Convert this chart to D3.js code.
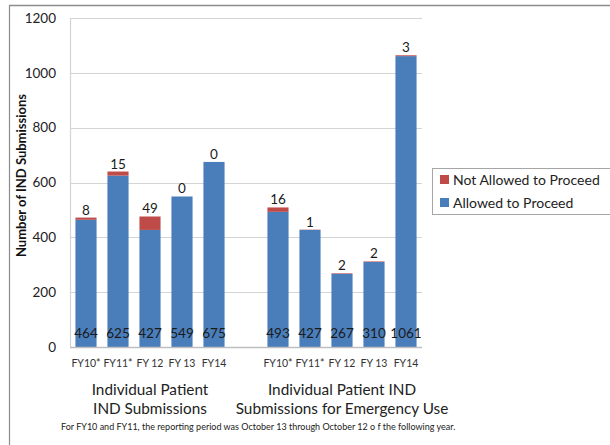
<!DOCTYPE html>
<html>
<head>
<meta charset="utf-8">
<script src="https://cdn.jsdelivr.net/npm/d3@7"></script>
<style>
  html, body { margin: 0; padding: 0; background: #fff; }
  svg { display: block; font-family: Lato, "Open Sans", sans-serif; }
</style>
</head>
<body>
<svg id="chart" width="610" height="445"></svg>
<script>
// Fiscal years shown in each panel
const years = ["FY10*", "FY11*", "FY 12", "FY 13", "FY14"];
const groupNames = [
  ["Individual Patient", "IND Submissions"],
  ["Individual Patient IND", "Submissions for Emergency Use"]
];
// Individual Patient IND Submissions
const patientAllowed = [464, 625, 427, 549, 675];
const patientNotAllowed = [8, 15, 49, 0, 0];
// Individual Patient IND Submissions for Emergency Use
const emergencyAllowed = [493, 427, 267, 310, 1061];
const emergencyNotAllowed = [16, 1, 2, 2, 3];
const yTicks = [0, 200, 400, 600, 800, 1000, 1200];
const seriesNames = ["Not Allowed to Proceed", "Allowed to Proceed"];
const footnote = "For FY10 and FY11, the reporting period was October 13 through October 12 o f the following year.";

const blue = "#4A7EBB", red = "#BE4B48";

// Build rows: 5 bars, one empty slot, 5 bars
const rows = [];
years.forEach((yr, i) => rows.push({ key: "p" + i, label: yr, group: 0, allowed: patientAllowed[i], notAllowed: patientNotAllowed[i] }));
rows.push({ key: "gap", label: "", group: -1, allowed: 0, notAllowed: 0 });
years.forEach((yr, i) => rows.push({ key: "e" + i, label: yr, group: 1, allowed: emergencyAllowed[i], notAllowed: emergencyNotAllowed[i] }));

const svg = d3.select("#chart");
const plotLeft = 70, plotRight = 422, plotTop = 18, plotBottom = 347;

const x = d3.scaleBand().domain(rows.map(d => d.key)).range([plotLeft, plotRight]).paddingInner(0.34).paddingOuter(0.17);
const y = d3.scaleLinear().domain([0, 1200]).range([plotBottom, plotTop]);

// Outer frame (top and left edges)
svg.append("line").attr("x1", 9).attr("x2", 610).attr("y1", 5.5).attr("y2", 5.5).attr("stroke", "#8c8c8c").attr("stroke-width", 1.5);
svg.append("line").attr("x1", 9.5).attr("x2", 9.5).attr("y1", 5).attr("y2", 445).attr("stroke", "#8c8c8c").attr("stroke-width", 1.2);

// Gridlines
svg.append("g").selectAll("line").data(yTicks.slice(1)).join("line")
  .attr("x1", plotLeft).attr("x2", plotRight)
  .attr("y1", d => Math.round(y(d)) + 0.5).attr("y2", d => Math.round(y(d)) + 0.5)
  .attr("stroke", "#d4d4d4").attr("stroke-width", 1.2);
svg.append("line").attr("x1", plotLeft + 0.5).attr("x2", plotLeft + 0.5).attr("y1", plotTop).attr("y2", plotBottom)
  .attr("stroke", "#d4d4d4").attr("stroke-width", 1.2);

// Y axis
const yAxis = d3.axisLeft(y).tickValues(yTicks).tickSize(0).tickPadding(0).tickFormat(d3.format("d"));
const yg = svg.append("g").attr("transform", `translate(${plotLeft - 14},0)`).call(yAxis);
yg.select(".domain").remove();
yg.selectAll("text").attr("font-size", 13.5).attr("fill", "#222").attr("font-family", "Lato, sans-serif");

// Stacked bars
const data = rows.filter(d => d.group >= 0);
const stack = d3.stack().keys(["allowed", "notAllowed"])(data);
const colors = { allowed: blue, notAllowed: red };
stack.forEach(layer => {
  svg.append("g").selectAll("rect").data(layer).join("rect")
    .attr("x", d => x(d.data.key))
    .attr("width", x.bandwidth())
    .attr("y", d => y(d[1]))
    .attr("height", d => y(d[0]) - y(d[1]))
    .attr("fill", colors[layer.key]);
});

// X axis baseline
svg.append("line").attr("x1", plotLeft).attr("x2", plotRight).attr("y1", plotBottom + 0.5).attr("y2", plotBottom + 0.5)
  .attr("stroke", "#bfbfbf").attr("stroke-width", 1.5);

// Value labels: allowed at the base, not-allowed above the bar
svg.append("g").selectAll("text").data(data).join("text")
  .attr("x", d => x(d.key) + x.bandwidth() / 2)
  .attr("y", plotBottom - 9)
  .attr("text-anchor", "middle").attr("font-size", 13.5).attr("fill", "#1a1a1a")
  .text(d => d.allowed);
svg.append("g").selectAll("text").data(data).join("text")
  .attr("x", d => x(d.key) + x.bandwidth() / 2)
  .attr("y", d => y(d.allowed + d.notAllowed) - 3)
  .attr("text-anchor", "middle").attr("font-size", 13.5).attr("fill", "#1a1a1a")
  .text(d => d.notAllowed);

// Category labels
svg.append("g").selectAll("text").data(data).join("text")
  .attr("x", d => x(d.key) + x.bandwidth() / 2)
  .attr("y", 367)
  .attr("text-anchor", "middle").attr("font-size", 10.5).attr("fill", "#333")
  .text(d => d.label);

// Group titles
[0, 1].forEach(g => {
  const keys = data.filter(d => d.group === g).map(d => d.key);
  const cx = (x(keys[0]) + x(keys[keys.length - 1]) + x.bandwidth()) / 2;
  groupNames[g].forEach((line, i) => {
    svg.append("text").attr("x", cx).attr("y", 395 + i * 19)
      .attr("text-anchor", "middle").attr("font-size", 15.3).attr("fill", "#222")
      .text(line);
  });
});

// Y axis title
svg.append("text")
  .attr("transform", `translate(26,${(plotTop + plotBottom) / 2 - 7}) rotate(-90)`)
  .attr("text-anchor", "middle").attr("font-size", 13).attr("font-weight", "bold").attr("fill", "#111")
  .text("Number of IND Submissions");

// Footnote
svg.append("text").attr("x", 61).attr("y", 430).attr("font-size", 9).attr("fill", "#222").text(footnote);

// Legend
const lg = svg.append("g").attr("transform", "translate(432,168)");
lg.append("rect").attr("x", 0.5).attr("y", 0.5).attr("width", 185).attr("height", 46)
  .attr("fill", "#fff").attr("stroke", "#a6a6a6");
[[red, seriesNames[0]], [blue, seriesNames[1]]].forEach(([c, t], i) => {
  lg.append("rect").attr("x", 8).attr("y", 7 + i * 23).attr("width", 9).attr("height", 9).attr("fill", c);
  lg.append("text").attr("x", 21).attr("y", 17 + i * 23).attr("font-size", 14).attr("fill", "#222").text(t);
});
</script>
</body>
</html>
